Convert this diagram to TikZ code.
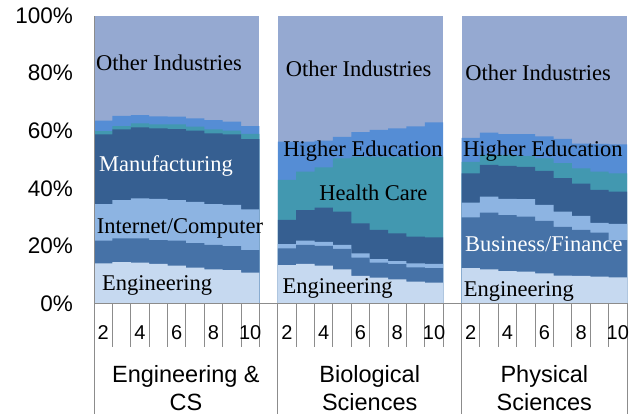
\documentclass[tikz,border=0pt]{standalone}
\usepackage{fontspec}
\setsansfont{Liberation Sans}
\newfontfamily\labelfont{Liberation Serif}
\usetikzlibrary{positioning}
\definecolor{otherind}{HTML}{95A9D1}
\definecolor{highered}{HTML}{558DD5}
\definecolor{healthc}{HTML}{4298B0}
\definecolor{manuf}{HTML}{365F91}
\definecolor{internet}{HTML}{8DB4E2}
\definecolor{business}{HTML}{4672A7}
\definecolor{engin}{HTML}{C6D9F0}
\definecolor{axisgray}{HTML}{8C8C8C}
\tikzset{
  axis line/.style={draw=axisgray,line width=1pt},
  ylab/.style={font=\sffamily\fontsize{22.5}{24}\selectfont,anchor=east,inner sep=0pt},
  ticklab/.style={font=\sffamily\fontsize{20}{22}\selectfont,anchor=base,inner sep=0pt},
  grouplab/.style={font=\sffamily\fontsize{23.5}{27.3}\selectfont,anchor=base,align=center,inner sep=0pt},
  serieslab/.style={font=\labelfont\fontsize{22.5}{24}\selectfont,anchor=base,inner sep=0pt}
}
% one stacked band: colour, first slot, nine tops
\newcommand{\stepband}[3]{%
  \fill[#1] (#2,0) \foreach \v [count=\i] in {#3} { -- ({#2+\i-1},\v) -- ({#2+\i},\v) } -- ({#2+9},0) -- cycle;
}

\begin{document}
\begin{tikzpicture}[x=18.38pt,y=2.876pt]
  \useasboundingbox (-94pt,-110.7pt) rectangle (545pt,303.3pt);
  % Engineering & CS
  \fill[otherind] (0,0) rectangle (9,100);
  \stepband{highered}{0}{63.5,65.2,65.4,65.0,64.9,64.3,63.7,63.2,61.6}
  \stepband{healthc}{0}{59.9,61.6,62.6,62.2,62.2,61.4,60.5,60.0,58.9}
  \stepband{manuf}{0}{58.7,60.5,61.2,60.8,60.6,60.0,59.1,58.7,57.1}
  \stepband{internet}{0}{34.5,35.9,36.5,36.3,35.9,35.3,34.5,34.2,32.7}
  \stepband{business}{0}{21.8,22.6,22.6,22.0,21.8,20.9,20.3,19.9,18.5}
  \stepband{engin}{0}{13.9,14.3,14.1,13.7,13.1,12.4,11.8,11.5,10.7}
  % Biological Sciences
  \fill[otherind] (10,0) rectangle (19,100);
  \stepband{highered}{10}{56.2,56.2,56.6,57.9,59.5,60.3,60.8,61.5,62.9}
  \stepband{healthc}{10}{42.9,45.8,47.3,50.4,51.0,51.0,51.0,51.0,51.0}
  \stepband{manuf}{10}{29.0,32.4,33.3,31.9,27.8,25.5,24.3,23.2,22.9}
  \stepband{internet}{10}{20.6,21.8,21.4,20.3,17.4,15.4,14.7,13.9,13.7}
  \stepband{business}{10}{19.1,20.3,20.0,18.9,15.9,14.1,13.6,12.5,12.2}
  \stepband{engin}{10}{13.3,13.7,13.1,11.8,9.5,8.9,8.3,7.5,7.2}
  % Physical Sciences
  \fill[otherind] (20,0) rectangle (29,100);
  \stepband{highered}{20}{57.5,59.3,58.8,58.8,58.0,57.2,55.5,55.4,55.3}
  \stepband{healthc}{20}{49.2,51.6,51.6,51.2,50.4,48.7,46.9,45.8,45.2}
  \stepband{manuf}{20}{45.2,48.1,47.8,47.4,46.0,43.5,41.6,39.4,38.8}
  \stepband{internet}{20}{35.0,37.1,36.3,36.2,34.2,31.9,30.4,28.0,27.6}
  \stepband{business}{20}{29.9,31.5,30.7,30.1,28.7,26.6,25.5,24.6,22.0}
  \stepband{engin}{20}{12.2,11.8,11.2,11.0,10.4,9.6,9.5,9.3,9.0}

  % axes
  \draw[axis line] (0,0) -- (0,100);
  \draw[axis line] (0,0) -- (29,0);
  \foreach \s in {0,...,29}
    \draw[axis line] (\s,0) -- (\s,-15.2);
  \foreach \s in {0,10,20,29}
    \draw[axis line] (\s,0) -- (\s,-38.5);
  \foreach \p in {0,20,...,100}
    \node[ylab] (y\p) at (-1.14,\p) {\p\%};
  \foreach \g in {0,1,2}
    \foreach \k in {1,3,5,7,9} {
      \pgfmathtruncatemacro\lab{\k+1}
      \node[ticklab] (t\g-\k) at ({10*\g+\k-0.5},-12.76) {\lab};
    }
  \node[grouplab] (engcs) at (5,-37.1) {Engineering \&\\CS};
  \node[grouplab] (biosci) at (15,-37.1) {Biological\\Sciences};
  \node[grouplab] (physsci) at (24.5,-37.1) {Physical\\Sciences};

  % series labels
  \node[serieslab] (other1) at (4.08,80.9) {Other Industries};
  \node[serieslab,white] (manuf1) at (3.92,45.8) {Manufacturing};
  \node[serieslab] (internet1) at (4.68,24.3) {Internet/Computer};
  \node[serieslab] (engin1) at (3.43,4.6) {Engineering};
  \node[serieslab] (other2) at (14.40,79.0) {Other Industries};
  \node[serieslab] (highered2) at (14.64,51.0) {Higher Education};
  \node[serieslab] (healthc2) at (15.20,35.6) {Health Care};
  \node[serieslab] (engin2) at (13.25,3.5) {Engineering};
  \node[serieslab] (other3) at (24.16,77.3) {Other Industries};
  \node[serieslab] (highered3) at (24.42,51.0) {Higher Education};
  \node[serieslab,white] (business3) at (24.48,17.9) {Business/Finance};
  \node[serieslab] (engin3) at (23.11,2.3) {Engineering};
\end{tikzpicture}
\end{document}
